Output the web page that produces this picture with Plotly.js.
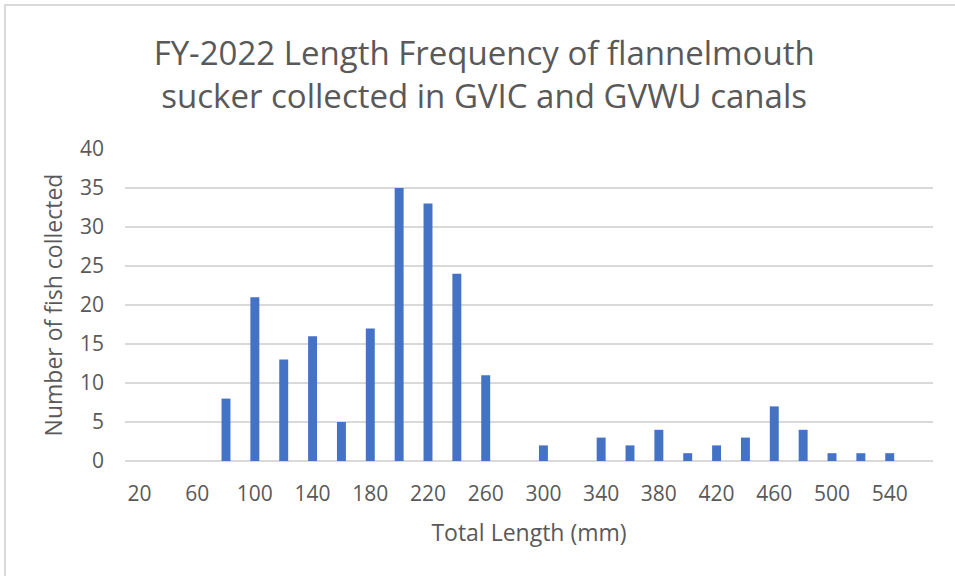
<!DOCTYPE html>
<html>
<head>
<meta charset="utf-8">
<script src="https://cdn.plot.ly/plotly-3.0.1.min.js"></script>
<style>
  html, body { margin: 0; padding: 0; background: #ffffff; }
  #wrap { position: relative; width: 955px; height: 576px; overflow: hidden; }
  #chart { width: 955px; height: 576px; }
  #frame { position: absolute; left: 4px; top: 4px; width: 1000px; height: 1000px;
           border-left: 2px solid #d9d9d9; border-top: 2px solid #d9d9d9; pointer-events: none; }
</style>
</head>
<body>
<div id="wrap">
  <div id="chart"></div>
  <div id="frame"></div>
</div>
<script>
// Length classes (mm)
const lengthClasses = ["20","40","60","80","100","120","140","160","180","200","220","240","260","280",
                       "300","320","340","360","380","400","420","440","460","480","500","520","540","560"];
// Number of fish collected per class
const fishCounts = [0,0,0,8,21,13,16,5,17,35,33,24,11,0,
                    2,0,3,2,4,1,2,3,7,4,1,1,1,0];
// Tick labels shown on the x axis
const xTickLabels = ["20","60","100","140","180","220","260","300","340","380","420","460","500","540"];
const yTickValues = [0,5,10,15,20,25,30,35,40];

const titleText = "FY-2022 Length Frequency of flannelmouth<br>sucker collected in GVIC and GVWU canals";
const xTitle = "Total Length (mm)";
const yTitle = "Number of fish collected";

const gray = "#595959";
const fontFam = "'Open Sans', sans-serif";

const trace = {
  type: "bar",
  x: lengthClasses,
  y: fishCounts,
  marker: { color: "#4472C4" },
  hoverinfo: "x+y"
};

const layout = {
  width: 955,
  height: 576,
  margin: { l: 125, r: 22, t: 149, b: 115 },
  paper_bgcolor: "#ffffff",
  plot_bgcolor: "#ffffff",
  bargap: 0.69,
  showlegend: false,
  font: { family: fontFam, color: gray, size: 20 },
  title: {
    text: titleText,
    font: { family: fontFam, size: 33, color: gray },
    x: 0.507, xanchor: "center", xref: "container",
    y: 0.887, yanchor: "middle"
  },
  xaxis: {
    type: "category",
    tickmode: "array",
    tickvals: xTickLabels,
    ticktext: xTickLabels,
    showgrid: false,
    zeroline: false,
    showline: false,
    ticks: "",
    ticklabelstandoff: 18,
    tickfont: { family: fontFam, size: 21, color: gray },
    title: { text: xTitle, font: { family: fontFam, size: 23, color: gray }, standoff: 18 },
    fixedrange: true
  },
  yaxis: {
    range: [0, 40],
    tickmode: "array",
    tickvals: yTickValues,
    showgrid: true,
    gridcolor: "#d9d9d9",
    gridwidth: 1.5,
    zeroline: true,
    zerolinecolor: "#d9d9d9",
    zerolinewidth: 1.5,
    showline: false,
    ticks: "",
    ticklabelstandoff: 20,
    tickfont: { family: fontFam, size: 21, color: gray },
    title: { text: yTitle, font: { family: fontFam, size: 23, color: gray }, standoff: 10 },
    fixedrange: true
  }
};

Plotly.newPlot("chart", [trace], layout, { displayModeBar: false, staticPlot: true });
</script>
</body>
</html>
